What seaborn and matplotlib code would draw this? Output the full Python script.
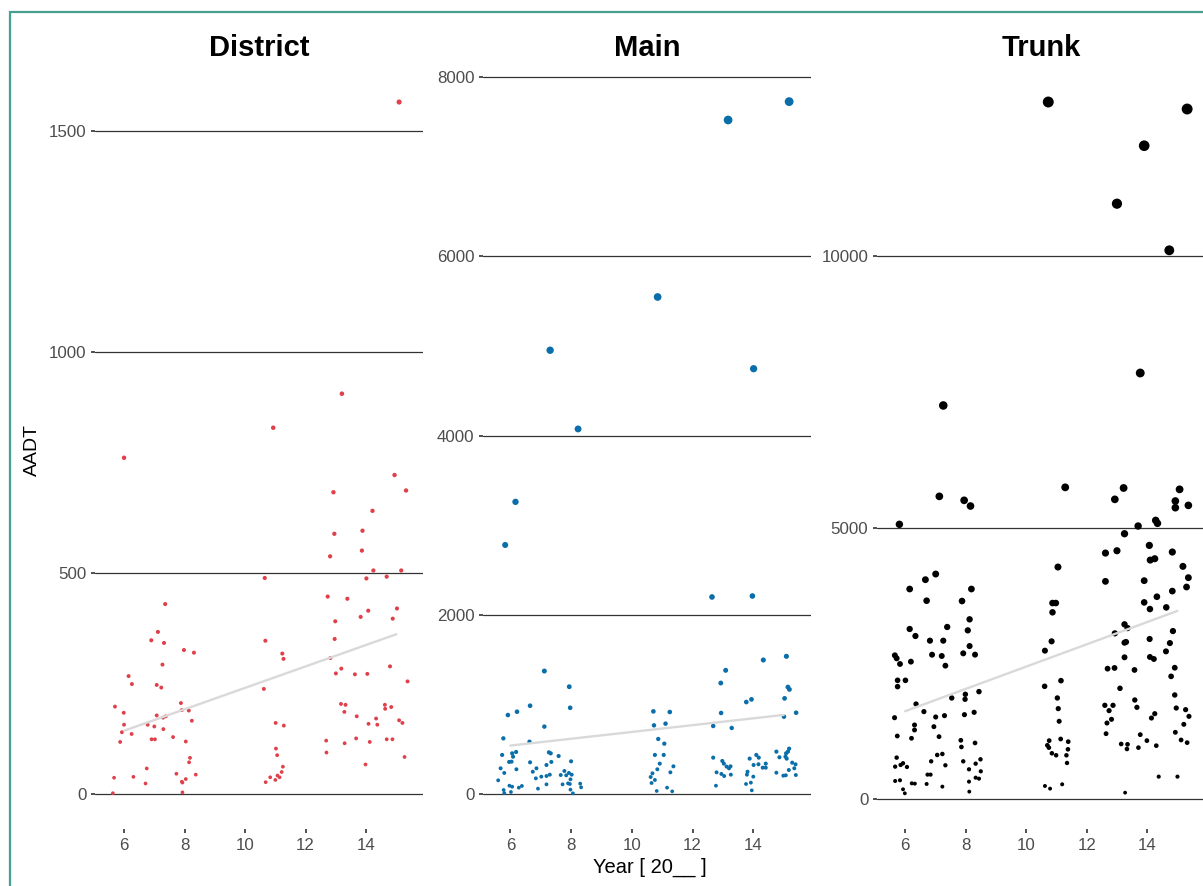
import numpy as np
import pandas as pd
import matplotlib
matplotlib.use("Agg")
import matplotlib.pyplot as plt
import seaborn as sns
from matplotlib.patches import Rectangle

sns.set_theme(style="white")
plt.rcParams['font.family'] = ['Liberation Sans', 'DejaVu Sans']

# ---------------- data (jittered year position, AADT) ----------------
district_x = [
    14.24, 15.16, 10.65, 14.01, 14.68, 7.36, 12.73, 13.38, 15.02, 14.07,
    13.82, 14.88, 12.98, 7.12, 6.90, 7.32, 10.67, 12.96, 7.98, 8.31,
    11.23, 11.27, 12.82, 7.27, 14.79, 13.18, 13.00, 13.63, 14.04, 6.15,
    6.26, 7.08, 7.23, 10.62, 15.37, 5.70, 5.99, 7.88, 7.91, 8.14,
    13.17, 13.32, 14.62, 14.63, 14.83, 13.28, 7.08, 7.29, 7.38, 6.00,
    6.78, 7.00, 8.24, 13.69, 14.33, 14.08, 14.37, 15.09, 15.20, 11.01,
    11.28, 5.93, 6.25, 7.30, 6.91, 7.02, 5.87, 7.62, 8.04, 12.68,
    13.29, 13.67, 14.12, 14.68, 14.87, 12.69, 11.02, 11.06, 15.27, 13.98,
    8.18, 8.15, 6.75, 11.25, 11.21, 5.67, 6.31, 6.71, 7.73, 7.91,
    7.93, 8.04, 8.37, 10.68, 10.83, 11.00, 11.07, 11.14, 5.63, 7.93,
    13.20, 10.93, 6.00, 14.94, 15.32, 12.92, 14.21, 13.88, 12.95, 13.86,
    12.81, 15.09,
]
district_aadt = [
    506, 506, 489, 488, 492, 430, 447, 442, 420, 415,
    401, 397, 391, 367, 348, 342, 347, 351, 326, 320,
    318, 306, 308, 293, 289, 284, 273, 271, 272, 267,
    249, 247, 241, 238, 255, 198, 184, 206, 190, 189,
    204, 202, 202, 193, 197, 186, 178, 173, 176, 157,
    157, 153, 166, 176, 171, 159, 157, 167, 161, 161,
    155, 140, 136, 147, 124, 124, 118, 129, 119, 121,
    115, 126, 118, 124, 124, 94, 103, 88, 84, 67,
    82, 72, 58, 62, 50, 37, 39, 24, 46, 28,
    26, 34, 44, 27, 38, 32, 42, 38, 2, 4,
    906, 829, 761, 722, 687, 683, 641, 596, 589, 551,
    538, 1566,
]

main_x = [
    7.12, 7.94, 7.97, 6.65, 6.22, 5.92, 5.77, 6.63, 7.12, 5.73,
    6.06, 6.19, 6.09, 5.96, 6.04, 5.68, 6.20, 5.80, 5.60, 5.78,
    5.80, 6.02, 5.97, 6.06, 6.28, 6.38, 7.27, 7.33, 7.59, 7.19,
    7.35, 8.00, 6.65, 6.86, 6.74, 6.84, 7.02, 7.19, 7.30, 6.91,
    7.19, 7.66, 7.78, 7.84, 7.93, 8.02, 7.72, 7.90, 7.96, 7.98,
    7.98, 8.06, 8.30, 8.33, 10.71, 11.25, 10.73, 11.11, 10.87, 11.07,
    10.76, 11.05, 10.92, 11.37, 10.84, 10.68, 10.62, 11.27, 10.76, 10.65,
    11.16, 10.82, 11.33, 13.09, 12.93, 12.94, 12.68, 13.29, 12.68, 12.98,
    13.03, 13.12, 13.20, 13.25, 12.79, 12.95, 13.04, 13.26, 12.77, 14.33,
    13.77, 13.94, 13.88, 14.10, 14.18, 14.01, 14.17, 14.31, 14.41, 14.41,
    13.81, 13.79, 14.00, 13.76, 13.92, 13.95, 15.09, 15.14, 15.19, 15.03,
    15.41, 15.01, 14.76, 14.86, 15.06, 15.08, 15.14, 15.18, 15.10, 15.28,
    15.39, 15.35, 15.17, 14.76, 14.99, 15.07, 15.40,
    7.31, 8.23, 10.85, 13.17, 14.01, 15.18, 5.83, 6.17, 12.64, 13.97,
]
main_aadt = [
    1375, 1200, 965, 988, 921, 884, 624, 587, 755, 439,
    457, 472, 420, 361, 364, 290, 279, 238, 156, 48,
    14, 26, 96, 85, 74, 93, 468, 457, 427, 327,
    361, 368, 357, 290, 252, 178, 197, 204, 219, 63,
    111, 215, 260, 212, 238, 219, 111, 122, 115, 167,
    52, 11, 119, 78, 925, 918, 769, 788, 617, 565,
    439, 439, 342, 312, 279, 234, 193, 245, 160, 126,
    74, 37, 33, 1383, 1241, 907, 762, 740, 409, 372,
    342, 309, 290, 312, 245, 227, 204, 219, 96, 1498,
    1029, 1059, 398, 439, 409, 327, 335, 297, 297, 342,
    252, 219, 197, 115, 130, 44, 1539, 1196, 1170, 1070,
    910, 866, 476, 413, 420, 457, 476, 509, 398, 353,
    334, 290, 271, 241, 208, 212, 215,
    4953, 4075, 5547, 7521, 4747, 7726, 2781, 3262, 2201, 2212,
]

trunk_x = [
    5.81, 7.13, 7.95, 8.16, 11.29, 12.93, 13.22, 15.07, 14.93, 14.93,
    15.36, 14.28, 14.34, 13.70,
    13.25, 12.62, 13.00, 14.07, 14.10, 14.25, 14.83, 15.18, 15.36, 15.30,
    12.62, 13.90, 11.05, 10.87, 10.98, 10.87, 10.84, 10.62, 13.90, 14.09,
    14.32, 14.63, 14.83, 14.85, 14.75, 14.62, 14.91, 14.79, 14.91, 14.96,
    15.27, 15.38, 15.21, 14.93, 15.12, 15.32, 15.00, 14.38, 14.08, 14.09,
    14.22, 12.93, 13.25, 13.35, 13.25, 13.30, 13.25, 12.69, 12.92, 13.58,
    13.10, 12.60, 12.87, 12.74, 12.82, 12.67, 12.64, 13.59, 13.66, 13.14,
    13.35, 13.33, 13.71, 13.77, 13.99,
    14.14, 14.25, 14.30, 13.27,
    10.61, 11.15, 11.03, 11.06, 11.09, 10.76, 10.70, 10.85, 10.99, 10.75,
    11.14, 11.39, 11.38, 11.33, 11.35, 10.62, 10.79, 11.19,
    5.66, 5.72, 5.83, 5.75, 5.75, 6.01, 6.15, 6.15, 6.34, 6.19,
    5.65, 5.74, 6.36, 6.31, 6.31, 6.21, 5.72, 5.67, 5.85, 5.93,
    6.06, 5.67, 5.83, 5.93, 5.99, 6.22, 6.32, 6.67, 7.01, 6.71,
    6.82, 6.89, 7.21, 7.26, 7.33, 7.39, 6.62, 7.01, 7.30, 6.95,
    7.12, 6.86, 7.06, 7.23, 7.33, 6.74, 6.84, 6.71, 7.23, 7.88,
    8.19, 8.13, 8.07, 8.13, 7.92, 8.31, 8.44, 7.99, 7.98, 7.54,
    7.96, 8.28, 7.84, 7.86, 8.31, 8.49, 8.33, 7.92, 8.11, 8.50,
    8.33, 8.44, 8.11, 8.12,
    10.73, 15.32, 13.90, 13.00, 14.73, 7.26, 13.77,
]
trunk_aadt = [
    5062, 5577, 5504, 5399, 5743, 5522, 5731, 5706, 5491, 5368,
    5411, 5135, 5080, 5031,
    4889, 4533, 4576, 4674, 4404, 4429, 4552, 4288, 4080, 3908,
    4012, 4025, 4276, 3613, 3613, 3442, 2908, 2736, 3625, 3502,
    3729, 3533, 3833, 3097, 2876, 2723, 2422, 2263, 1920, 1680,
    1650, 1527, 1380, 1233, 1092, 1043, 417, 417, 2951, 2620,
    2583, 3055, 3221, 3152, 2883, 2896, 2614, 2405, 2418, 2381,
    2043, 1730, 1730, 1632, 1472, 1404, 1208, 1828, 1693, 1018,
    1012, 926, 951, 1190, 1080,
    1496, 1576, 987, 122,
    2080, 2184, 1865, 1669, 1436, 1080, 994, 847, 810, 951,
    1110, 1061, 920, 810, 669, 245, 196, 276,
    2650, 2595, 2491, 2190, 2074, 2190, 3871, 3135, 3006, 2534,
    1502, 1165, 1754, 1368, 1276, 1123, 767, 601, 632, 663,
    595, 337, 350, 184, 110, 294, 288, 4043, 4147, 3656,
    2920, 2662, 2638, 2920, 2460, 3172, 1614, 1515, 1540, 1337,
    1153, 699, 816, 834, 626, 454, 454, 282, 233, 3650,
    3871, 3313, 3110, 2821, 2687, 2663, 1982, 1933, 1841, 1865,
    1558, 1601, 1086, 963, 1037, 736, 656, 699, 552, 515,
    398, 380, 325, 141,
    12837, 12708, 12032, 10965, 10107, 7250, 7848,
]

panel_names = ["District", "Main", "Trunk"]
panel_colors = ["#E0404A", "#0A6EAA", "#000000"]
panel_yticks = [[0, 500, 1000, 1500], [0, 2000, 4000, 6000, 8000], [0, 5000, 10000]]
x_ticks = [6, 8, 10, 12, 14]

# ---------------- layout ----------------
W, H = 1203, 886
fig = plt.figure(figsize=(W / 100, H / 100), dpi=100)
fig.patch.set_facecolor("white")

panel_left_px = [95, 483, 877]
panel_xlim = [(5.04, 15.88), (5.10, 15.90), (5.07, 15.91)]
panel_ylim = [(-79, 1643), (-387, 8101), (-547, 13463)]
top_px, bottom_px, width_px = 68, 829, 328

data_x = [district_x, main_x, trunk_x]
data_y = [district_aadt, main_aadt, trunk_aadt]

for i, name in enumerate(panel_names):
    ax = fig.add_axes([panel_left_px[i] / W, (H - bottom_px) / H,
                       width_px / W, (bottom_px - top_px) / H])
    df = pd.DataFrame({"x": data_x[i], "aadt": data_y[i]})
    df["year"] = np.round(df["x"])
    sns.scatterplot(data=df, x="x", y="aadt", size="aadt",
                    sizes=(7, 62), size_norm=(0, 12800),
                    color=panel_colors[i], linewidth=0, legend=False,
                    ax=ax, zorder=3)
    sns.regplot(data=df, x="year", y="aadt", scatter=False, ci=None,
                truncate=True, color="#d9d9d9",
                line_kws={"lw": 1.7, "zorder": 4}, ax=ax)
    ax.set_xlim(*panel_xlim[i])
    ax.set_ylim(*panel_ylim[i])
    ax.set_xticks(x_ticks)
    ax.set_yticks(panel_yticks[i])
    ax.set_xlabel("")
    ax.set_ylabel("")
    ax.grid(False)
    for yv in panel_yticks[i]:
        ax.axhline(yv, color="#333333", lw=0.9, zorder=1)
    for s in ax.spines.values():
        s.set_visible(False)
    ax.tick_params(axis="both", length=3.2, width=1.2, color="#333333",
                   labelsize=12.2, labelcolor="#4D4D4D", pad=3,
                   left=True, bottom=True)
    ax.set_title(name, fontsize=21, fontweight="bold", pad=9, color="black")
    ax.set_facecolor("white")

fig.text(32 / W, 1 - 450 / H, "AADT", rotation=90, ha="center", va="center",
         fontsize=14, color="black")
fig.text(650 / W, 1 - 867 / H, "Year [ 20__ ]", ha="center", va="center",
         fontsize=14.5, color="black")

# teal outline around the figure
fig.add_artist(Rectangle((10 / W, -0.2), 1.2, 1.2 - 12 / H,
                         transform=fig.transFigure, fill=False,
                         edgecolor="#45A08F", lw=1.6, zorder=10))

fig.savefig("out.png", dpi=100)
